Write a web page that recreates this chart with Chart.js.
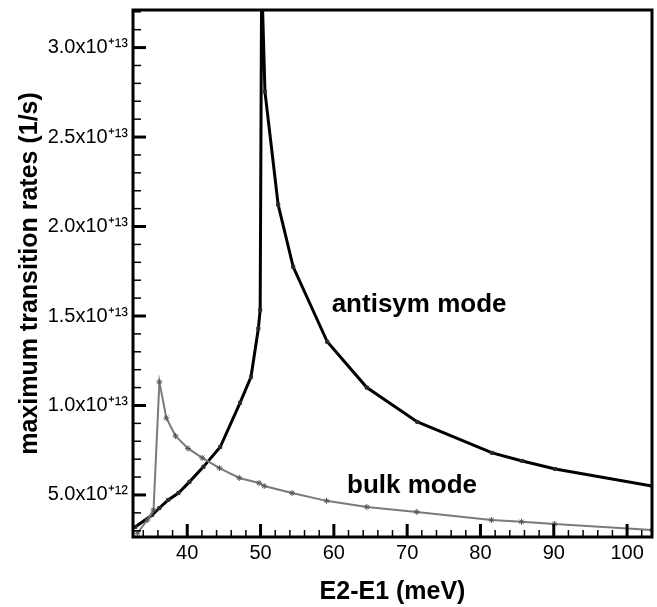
<!DOCTYPE html>
<html><head><meta charset="utf-8">
<script src="https://cdn.jsdelivr.net/npm/chart.js@4"></script>
<style>html,body{margin:0;padding:0;background:#fff}#wrap{width:657px;height:607px}</style>
</head><body><div id="wrap"><canvas id="c" width="657" height="607"></canvas></div>
<script>
const xTicks = [40, 50, 60, 70, 80, 90, 100];
const yTicks = [5e12, 1e13, 1.5e13, 2e13, 2.5e13, 3e13];
const yTickLabels = ["5.0x10\u207A\u00B9\u00B2", "1.0x10\u207A\u00B9\u00B3", "1.5x10\u207A\u00B9\u00B3", "2.0x10\u207A\u00B9\u00B3", "2.5x10\u207A\u00B9\u00B3", "3.0x10\u207A\u00B9\u00B3"];

const antisymX = [32.9, 35.2, 36.2, 37.4, 38.8, 40.3, 42.2, 44.5, 47.2, 48.7, 49.7, 49.95, 50.15, 50.6, 52.4, 54.45, 59.1, 64.5, 71.4, 81.6, 85.7, 90.2, 103.4];
const antisymY = [0.321e13, 0.388e13, 0.427e13, 0.472e13, 0.511e13, 0.573e13, 0.657e13, 0.768e13, 1.015e13, 1.16e13, 1.43e13, 1.535e13, 3.4e13, 2.754e13, 2.122e13, 1.775e13, 1.356e13, 1.10e13, 0.908e13, 0.735e13, 0.69e13, 0.645e13, 0.55e13];

const bulkX = [33.2, 34.55, 35.4, 36.2, 37.15, 38.4, 40.1, 42.05, 44.4, 47.1, 49.8, 50.5, 54.3, 59.0, 64.5, 71.3, 81.5, 85.6, 90.1, 103.4];
const bulkY = [0.287e13, 0.36e13, 0.416e13, 1.132e13, 0.93e13, 0.83e13, 0.76e13, 0.707e13, 0.65e13, 0.595e13, 0.567e13, 0.55e13, 0.511e13, 0.467e13, 0.433e13, 0.405e13, 0.36e13, 0.35e13, 0.338e13, 0.304e13];

const xTitle = "E2-E1 (meV)";
const yTitle = "maximum transition rates (1/s)";
const labelAntisym = "antisym mode";
const labelBulk = "bulk mode";

const FONT = "'Liberation Sans', Arial, Helvetica, sans-serif";

const toPts = (xs, ys) => xs.map((x, i) => ({x: x, y: ys[i]}));

const framePlugin = {
  id: 'frame',
  afterDatasetsDraw(chart) {
    const {ctx, chartArea: a, scales: {x, y}} = chart;
    ctx.save();
    ctx.strokeStyle = '#000';
    for (let v = 34; v <= 102; v += 2) {
      const px = x.getPixelForValue(v);
      const major = v % 10 === 0;
      ctx.lineWidth = major ? 3 : 1.5;
      ctx.beginPath();
      ctx.moveTo(px, a.bottom);
      ctx.lineTo(px, a.bottom - (major ? 13 : 7));
      ctx.stroke();
    }
    for (let k = 3; k <= 32; k++) {
      const py = y.getPixelForValue(k * 1e12);
      const major = k % 5 === 0;
      ctx.lineWidth = major ? 3 : 1.5;
      ctx.beginPath();
      ctx.moveTo(a.left, py);
      ctx.lineTo(a.left + (major ? 13 : 8), py);
      ctx.stroke();
    }
    ctx.lineWidth = 3;
    ctx.strokeRect(a.left, a.top, a.right - a.left, a.bottom - a.top);
    ctx.fillStyle = '#000';
    ctx.font = "bold 26px " + FONT;
    ctx.textBaseline = 'alphabetic';
    ctx.textAlign = 'left';
    ctx.fillText(labelAntisym, x.getPixelForValue(59.7), y.getPixelForValue(1.523e13));
    ctx.fillText(labelBulk, x.getPixelForValue(61.8), y.getPixelForValue(0.511e13));
    ctx.restore();
  }
};

new Chart(document.getElementById('c'), {
  type: 'scatter',
  data: {
    datasets: [
      {
        label: 'bulk mode',
        data: toPts(bulkX, bulkY),
        showLine: true,
        borderColor: '#7a7a7a',
        backgroundColor: '#7a7a7a',
        borderWidth: 2,
        pointStyle: 'star',
        pointRadius: 3,
        pointBorderWidth: 1,
        pointBorderColor: '#555',
        tension: 0,
        clip: 0
      },
      {
        label: 'antisym mode',
        data: toPts(antisymX, antisymY),
        showLine: true,
        borderColor: '#000',
        backgroundColor: '#222',
        borderWidth: 3,
        pointStyle: 'rect',
        pointRadius: 2.2,
        pointBorderWidth: 1,
        pointBorderColor: '#333',
        tension: 0,
        clip: 0
      }
    ]
  },
  options: {
    responsive: false,
    animation: false,
    devicePixelRatio: 1,
    layout: {padding: {top: 10, right: 5, left: 0, bottom: 0}},
    plugins: {legend: {display: false}, tooltip: {enabled: false}},
    scales: {
      x: {
        type: 'linear',
        min: 32.6,
        max: 103.4,
        grid: {display: false, drawTicks: false},
        border: {display: false},
        afterBuildTicks: (s) => { s.ticks = xTicks.map(v => ({value: v})); },
        afterFit: (s) => { s.height = 70; s.paddingLeft = 0; s.paddingRight = 0; },
        ticks: {
          color: '#000',
          font: {family: FONT, size: 20},
          padding: 4,
          maxRotation: 0,
          callback: (v) => String(v)
        },
        title: {
          display: true,
          text: xTitle,
          color: '#000',
          font: {family: FONT, size: 25, weight: 'bold'},
          padding: {top: 0, bottom: 0}
        }
      },
      y: {
        type: 'linear',
        min: 2.65e12,
        max: 3.21e13,
        grid: {display: false, drawTicks: false},
        border: {display: false},
        afterBuildTicks: (s) => { s.ticks = yTicks.map(v => ({value: v})); },
        afterFit: (s) => { s.width = 133; s.paddingTop = 0; s.paddingBottom = 0; },
        ticks: {
          color: '#000',
          font: {family: FONT, size: 20},
          padding: 5,
          callback: (v, i) => yTickLabels[i]
        },
        title: {
          display: true,
          text: yTitle,
          color: '#000',
          font: {family: FONT, size: 25, weight: 'bold'},
          padding: {top: 15, bottom: 0}
        }
      }
    }
  },
  plugins: [framePlugin]
});
</script>
</body></html>
